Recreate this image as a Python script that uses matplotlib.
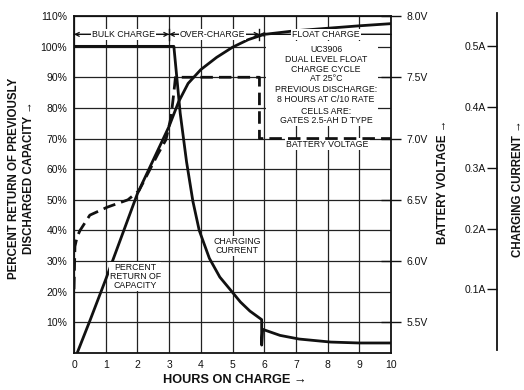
import matplotlib
matplotlib.use("Agg")
import matplotlib.pyplot as plt
from matplotlib.patches import Rectangle

plt.rcParams['font.family'] = ['Liberation Sans', 'DejaVu Sans']

# ---- data ----
hours_ticks = list(range(0, 11))
pct_ticks = [10, 20, 30, 40, 50, 60, 70, 80, 90, 100, 110]
pct_labels = [f"{p}%" for p in pct_ticks]
volt_ticks = [5.5, 6.0, 6.5, 7.0, 7.5, 8.0]
volt_labels = ["5.5V", "6.0V", "6.5V", "7.0V", "7.5V", "8.0V"]
amp_ticks = [0.1, 0.2, 0.3, 0.4, 0.5]
amp_labels = ["0.1A", "0.2A", "0.3A", "0.4A", "0.5A"]

# percent return of capacity (solid)
ret_t = [0.1, 0.5, 1.0, 1.5, 2.0, 2.5, 3.0, 3.3, 3.6, 4.0, 4.5, 5.0, 5.5, 6.0, 7.0, 8.0, 9.0, 10.0]
ret_p = [0, 10.5, 24, 38, 52, 63, 74, 82, 88, 92.5, 96.5, 99.8, 102.3, 104, 105.2, 106, 106.8, 107.5]

# battery voltage (dashed)
volt_t = [0.0, 0.03, 0.1, 0.19, 0.5, 1.05, 1.7, 2.05, 2.4, 2.65, 2.9, 3.06, 3.15, 3.2, 5.85, 5.85, 10.0]
volt_v = [5.77, 6.12, 6.2, 6.25, 6.375, 6.44, 6.5, 6.575, 6.75, 6.875, 6.99, 7.175, 7.375, 7.5, 7.5, 7.0, 7.0]

# charging current (solid)
cur_t = [0, 3.15, 3.35, 3.55, 3.75, 3.95, 4.27, 4.6, 4.95, 5.25, 5.55, 5.92, 5.92, 5.95, 6.5, 7.1, 8.1, 9.0, 10.0]
cur_a = [0.50, 0.50, 0.39, 0.31, 0.245, 0.197, 0.151, 0.12, 0.098, 0.079, 0.064, 0.050, 0.008, 0.034, 0.024, 0.018, 0.013, 0.0115, 0.0115]

# phase boundaries (hours)
phase_edges = [0, 3.0, 5.85, 10]
phase_names = ["BULK CHARGE", "OVER-CHARGE", "FLOAT CHARGE"]

W, H = 524, 390
fig = plt.figure(figsize=(W / 100, H / 100), dpi=100)
fig.patch.set_facecolor('white')

L, R = 74 / W, 391 / W
B, T = (H - 353) / H, (H - 16) / H
ax = fig.add_axes([L, B, R - L, T - B])
ax.set_xlim(0, 10)
ax.set_ylim(0, 110)
ax.set_xticks(hours_ticks)
ax.set_xticklabels([str(h) for h in hours_ticks])
ax.set_yticks(pct_ticks)
ax.set_yticklabels(pct_labels)
ax.tick_params(length=0, labelsize=7.5, pad=5, colors='#111')
ax.grid(True, color='#222', lw=0.9)
ax.set_axisbelow(True)
for s in ax.spines.values():
    s.set_linewidth(1.3)
    s.set_color('#111')

# white area behind the annotation text
ax.add_patch(Rectangle((6.05, 74), 3.55, 28, facecolor='white', edgecolor='none', zorder=2))

# percent return curve
ax.plot(ret_t, ret_p, color='#111', lw=2.0, zorder=4, solid_capstyle='butt')

# phase arrows
ay = 104
for i, name in enumerate(phase_names):
    x0, x1 = phase_edges[i], phase_edges[i + 1]
    ax.annotate('', xy=(x0, ay), xytext=(x1, ay),
                arrowprops=dict(arrowstyle='->', color='#111', lw=0.9,
                                shrinkA=0, shrinkB=0, mutation_scale=7), zorder=3)
    ax.annotate('', xy=(x1, ay), xytext=(x0, ay),
                arrowprops=dict(arrowstyle='->' if i < 2 else '-', color='#111', lw=0.9,
                                shrinkA=0, shrinkB=0, mutation_scale=7), zorder=3)
for xb in phase_edges[1:3]:
    ax.plot([xb, xb], [102.3, 105.7], color='#111', lw=1.0, zorder=3)
label_x = [1.56, 4.37, 7.95]
for name, lx in zip(phase_names, label_x):
    ax.text(lx, ay, name, ha='center', va='center', fontsize=6.3, color='#111', zorder=5,
            bbox=dict(facecolor='white', edgecolor='none', pad=0.6))

# annotation block
box_lines = [("UC3906", 99.0), ("DUAL LEVEL FLOAT", 95.75), ("CHARGE CYCLE", 92.5),
             ("AT 25°C", 89.5), ("PREVIOUS DISCHARGE:", 86.0), ("8 HOURS AT C/10 RATE", 82.7),
             ("CELLS ARE:", 78.8), ("GATES 2.5-AH D TYPE", 75.8)]
for txt, yy in box_lines:
    ax.text(7.95, yy, txt, ha='center', va='center', fontsize=6.3, color='#111', zorder=5)
ax.text(8.0, 68.2, "BATTERY VOLTAGE", ha='center', va='center', fontsize=6.3, color='#111', zorder=5,
        bbox=dict(facecolor='white', edgecolor='none', pad=0.8))
ax.text(1.93, 25, "PERCENT\nRETURN OF\nCAPACITY", ha='center', va='center', fontsize=6.3,
        color='#111', linespacing=1.05, zorder=5,
        bbox=dict(facecolor='white', edgecolor='none', pad=0.5))
ax.text(5.15, 35, "CHARGING\nCURRENT", ha='center', va='center', fontsize=6.3,
        color='#111', linespacing=1.05, zorder=5,
        bbox=dict(facecolor='white', edgecolor='none', pad=0.5))

# voltage axis
axv = ax.twinx()
axv.set_ylim(5.25, 8.0)
axv.set_yticks(volt_ticks)
axv.set_yticklabels(volt_labels)
axv.tick_params(axis='y', direction='inout', length=14, width=1.0, labelsize=7.5, pad=4, colors='#111')
for s in axv.spines.values():
    s.set_visible(False)
axv.plot(volt_t, volt_v, color='#111', lw=2.0, dashes=(4.5, 2.2), zorder=4)

# current curve
axc = ax.twinx()
axc.set_ylim(-0.005, 0.55)
axc.set_yticks([])
for s in axc.spines.values():
    s.set_visible(False)
axc.plot(cur_t, cur_a, color='#111', lw=2.0, zorder=4, solid_capstyle='butt')

# separate current scale
axs = fig.add_axes([497 / W, B, 0.0005, T - B])
axs.set_ylim(-0.005, 0.55)
axs.patch.set_visible(False)
for k in ['right', 'top', 'bottom']:
    axs.spines[k].set_visible(False)
axs.spines['left'].set_bounds(0, 0.555)
axs.spines['left'].set_linewidth(1.3)
axs.spines['left'].set_color('#111')
axs.set_xticks([])
axs.set_yticks(amp_ticks)
axs.set_yticklabels(amp_labels)
axs.tick_params(axis='y', length=7, width=1.0, labelsize=7.5, pad=1, colors='#111')

# axis titles
fig.text(21.5 / W, (H - 178) / H, "PERCENT RETURN OF PREVIOUSLY\nDISCHARGED CAPACITY →",
         rotation=90, ha='center', va='center', multialignment='center',
         fontsize=8.3, fontweight='bold', linespacing=1.25, color='#111')
fig.text(235 / W, (H - 380) / H, "HOURS ON CHARGE →", ha='center', va='center',
         fontsize=9.2, fontweight='bold', color='#111')
fig.text(443 / W, (H - 182) / H, "BATTERY VOLTAGE →", rotation=90, ha='center', va='center',
         fontsize=8.3, fontweight='bold', color='#111')
fig.text(518 / W, (H - 189) / H, "CHARGING CURRENT →", rotation=90, ha='center', va='center',
         fontsize=8.3, fontweight='bold', color='#111')

fig.savefig("out.png", dpi=100, facecolor='white')
